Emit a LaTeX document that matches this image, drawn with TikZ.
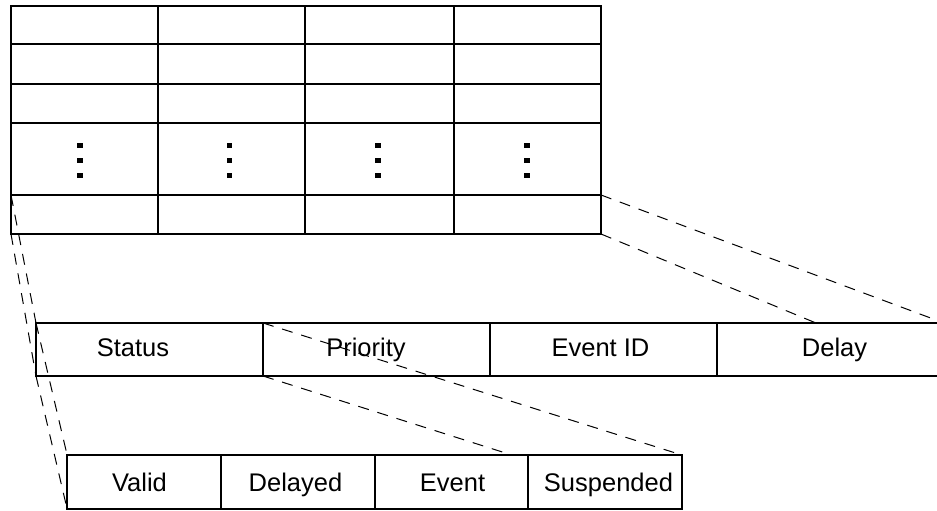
\documentclass[tikz,border=0pt]{standalone}
\usepackage{fontspec}
\setmainfont{Liberation Sans}
\pgfdeclarelayer{dashA}
\pgfdeclarelayer{dashB}
\pgfdeclarelayer{bottomrow}
\pgfsetlayers{dashA,main,dashB,bottomrow}
\begin{document}
\begin{tikzpicture}[x=1pt,y=-1pt,
  gridline/.style={line width=1.8pt},
  dashline/.style={line width=1pt, dash pattern=on 11pt off 9pt},
  cell/.style={draw, fill=white, line width=1.8pt, inner sep=0pt, outer sep=0pt, rectangle},
  midcell/.style={cell, minimum width=227pt, minimum height=53pt},
  botcell/.style={cell, minimum width=153.75pt, minimum height=54pt},
  lbl/.style={font=\fontsize{25.5}{30}\selectfont, anchor=base, inner sep=0pt}]
\useasboundingbox (0,0) rectangle (937,511);
\clip (0,0) rectangle (937,511);

% top table
\draw[gridline] (11,6) rectangle (601,234);
\foreach \y in {44,84,123,195} \draw[gridline] (11,\y) -- (601,\y);
\foreach \x in {158,305,454} \draw[gridline] (\x,6) -- (\x,234);
\foreach \x in {80,229.3,378,527}
  \foreach \y in {145.5,160.5,175.5}
    \fill ({\x-2.8},{\y-2.8}) rectangle ({\x+2.8},{\y+2.8});
\coordinate (tTL) at (11,195);
\coordinate (tBL) at (11,234);
\coordinate (tTR) at (601,195);
\coordinate (tBR) at (601,234);

% middle row
\node[midcell] (m1) at (149.5,349.5) {};
\node[midcell] (m2) at (376.5,349.5) {};
\node[midcell] (m3) at (603.5,349.5) {};
\node[midcell] (m4) at (830.5,349.5) {};
\node[lbl] (ts) at (133,356.5) {Status};
\node[lbl] (tp) at (366,356.5) {Priority};
\node[lbl] (te) at (600.5,356.5) {Event ID};
\node[lbl] (td) at (834.5,356.5) {Delay};

\begin{pgfonlayer}{dashA}
\draw[dashline] (tTL) -- (m1.north west);
\draw[dashline] (tBL) -- (m1.south west);
\draw[dashline] (tTR) -- (m4.north east);
\draw[dashline] (tBR) -- (m4.south east);
\end{pgfonlayer}

% bottom row
\begin{pgfonlayer}{bottomrow}
\node[botcell] (b1) at (144,482) {};
\node[botcell] (b2) at (298,482) {};
\node[botcell] (b3) at (451.5,482) {};
\node[botcell] (b4) at (605,482) {};
\node[lbl] (tv) at (139.5,491.5) {Valid};
\node[lbl] (tdl) at (295.5,491.5) {Delayed};
\node[lbl] (tev) at (452.5,491.5) {Event};
\node[lbl] (tsu) at (608.5,491.5) {Suspended};
\end{pgfonlayer}

\begin{pgfonlayer}{dashB}
\draw[dashline] (m1.north west) -- (b1.north west);
\draw[dashline] (m1.south west) -- (b1.south west);
\draw[dashline] (m1.north east) -- (b4.north east);
\draw[dashline] (m1.south east) -- (b4.south east);
\end{pgfonlayer}
\end{tikzpicture}
\end{document}
